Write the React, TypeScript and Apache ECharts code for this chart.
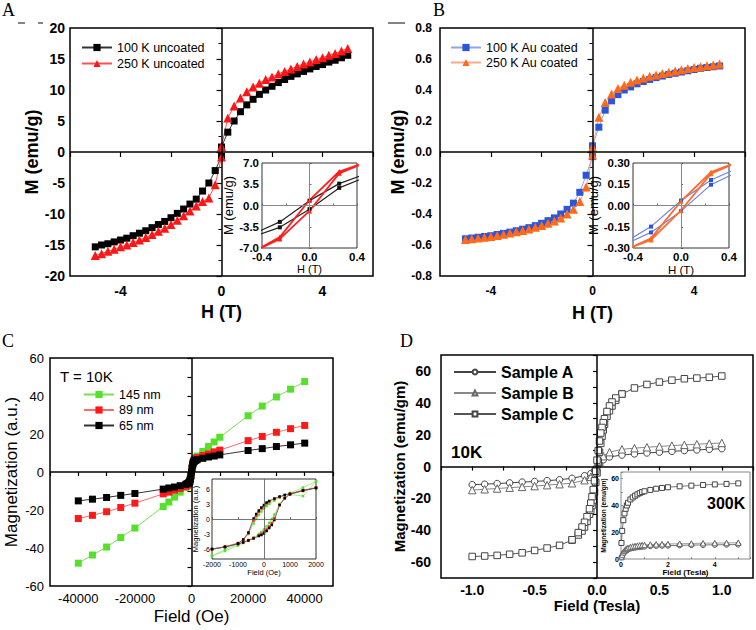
import React, { useEffect, useRef } from 'react';
import * as echarts from 'echarts';

const FONT = 'Arial, "Liberation Sans", Helvetica, sans-serif';
const SERIF = '"Times New Roman", "Liberation Serif", serif';

// ---------- Panel A (uncoated) ----------
const aField = [-5, -4.75, -4.5, -4.25, -4, -3.75, -3.5, -3.25, -3, -2.75, -2.5, -2.25, -2, -1.75, -1.5, -1.25, -1, -0.75, -0.5, -0.25, 0, 0, 0.25, 0.5, 0.75, 1, 1.25, 1.5, 1.75, 2, 2.25, 2.5, 2.75, 3, 3.25, 3.5, 3.75, 4, 4.25, 4.5, 4.75, 5];
const a100 = [-15.3, -15.0, -14.8, -14.5, -14.2, -13.9, -13.5, -13.1, -12.7, -12.2, -11.7, -11.2, -10.6, -9.9, -9.2, -8.4, -7.6, -6.3, -5.0, -3.0, -0.7, 0.8, 3.2, 5.0, 6.5, 7.6, 8.5, 9.3, 10.0, 10.6, 11.2, 11.7, 12.2, 12.6, 13.0, 13.4, 13.8, 14.1, 14.5, 14.8, 15.2, 15.6];
const a250 = [-16.7, -16.4, -16.0, -15.7, -15.3, -15.0, -14.6, -14.2, -13.8, -13.3, -12.8, -12.3, -11.7, -11.0, -10.3, -9.5, -8.7, -8.0, -7.4, -5.3, -0.8, 0.9, 5.5, 7.4, 8.7, 9.7, 10.5, 11.1, 11.7, 12.1, 12.6, 13.0, 13.4, 13.8, 14.2, 14.5, 14.9, 15.2, 15.6, 15.9, 16.3, 16.7];
// inset loops (A and B share the field sequence)
const insetField = [0.5, 0.25, 0, -0.25, -0.5, -0.5, -0.25, 0, 0.25, 0.5];
const aIn100 = [5.4, 3.6, 0.8, -2.7, -4.9, -5.3, -3.6, -0.6, 2.9, 4.9];
const aIn250 = [7.3, 5.6, 0.9, -5.2, -7.9, -7.8, -5.5, -0.9, 5.3, 7.3];

// ---------- Panel B (Au coated) ----------
const b100 = [-0.56, -0.555, -0.55, -0.545, -0.54, -0.532, -0.525, -0.517, -0.508, -0.498, -0.488, -0.475, -0.46, -0.443, -0.425, -0.40, -0.37, -0.33, -0.26, -0.15, -0.03, 0.04, 0.16, 0.27, 0.33, 0.37, 0.40, 0.42, 0.44, 0.455, 0.468, 0.48, 0.49, 0.50, 0.508, 0.516, 0.524, 0.532, 0.54, 0.545, 0.55, 0.555];
const b250 = [-0.565, -0.56, -0.555, -0.55, -0.545, -0.538, -0.53, -0.522, -0.515, -0.506, -0.497, -0.486, -0.474, -0.46, -0.445, -0.425, -0.40, -0.37, -0.32, -0.225, -0.02, 0.03, 0.225, 0.32, 0.375, 0.41, 0.43, 0.45, 0.465, 0.478, 0.488, 0.497, 0.506, 0.515, 0.522, 0.53, 0.538, 0.545, 0.55, 0.556, 0.562, 0.568];
const bIn100 = [0.273, 0.18, 0.035, -0.149, -0.276, -0.287, -0.19, -0.04, 0.147, 0.249];
const bIn250 = [0.316, 0.236, 0.03, -0.232, -0.329, -0.321, -0.243, -0.035, 0.225, 0.317];

// ---------- Panel C (T = 10K) ----------
const cField = [-40000, -35000, -30000, -25000, -20000, -10000, -8000, -6000, -4000, -2000, -1500, -1000, -800, -600, -400, -200, 0, 200, 400, 600, 800, 1000, 1500, 2000, 4000, 6000, 8000, 10000, 20000, 25000, 30000, 35000, 40000];
const c145 = [-48, -43.7, -39.5, -34.5, -29.5, -18.2, -15.8, -13.2, -10.6, -8.2, -7.3, -6.4, -5.8, -5.0, -3.8, -2.0, 0.2, 2.2, 3.9, 5.0, 5.8, 6.5, 7.4, 8.4, 10.8, 13.4, 15.8, 18.3, 29.6, 34.7, 39.5, 43.6, 47.6];
const c89 = [-24.5, -22.8, -20.9, -18.7, -16.4, -11.5, -10.6, -9.6, -8.7, -7.6, -7.0, -6.3, -5.8, -5.0, -3.8, -2.0, 0.1, 2.1, 3.8, 5.0, 5.8, 6.4, 7.0, 7.6, 8.7, 9.6, 10.6, 11.5, 16.5, 18.7, 20.9, 22.8, 24.5];
const c65 = [-15.2, -14.3, -13.4, -12.3, -11.3, -9.0, -8.4, -7.9, -7.2, -6.5, -6.1, -5.7, -5.3, -4.7, -3.7, -2.0, 0.0, 2.0, 3.7, 4.7, 5.3, 5.7, 6.1, 6.5, 7.2, 7.9, 8.4, 9.0, 11.3, 12.3, 13.4, 14.3, 15.2];
const cInField = [2000, 1500, 1000, 800, 600, 400, 200, 100, 0, -100, -200, -300, -400, -600, -800, -1000, -1500, -2000, -2000, -1500, -1000, -800, -600, -400, -200, -100, 0, 100, 200, 300, 400, 600, 800, 1000, 1500, 2000];
const cIn65 = [6.2, 5.7, 5.0, 4.8, 4.5, 4.1, 3.6, 3.3, 2.8, 2.3, 1.7, 1.0, 0.1, -2.7, -4.1, -4.9, -5.6, -6.0, -6.0, -5.6, -5.0, -4.7, -4.3, -3.9, -3.4, -3.2, -2.9, -2.4, -1.8, -1.2, -0.2, 2.8, 4.2, 5.0, 5.7, 6.2];
const cIn89 = [6.3, 5.8, 5.1, 4.8, 4.4, 4.0, 3.5, 3.1, 2.6, 2.1, 1.4, 0.6, -0.3, -2.9, -4.2, -4.8, -5.5, -6.1, -6.1, -5.5, -4.9, -4.6, -4.2, -3.8, -3.3, -3.0, -2.6, -2.1, -1.5, -0.8, 0.2, 2.8, 4.1, 4.9, 5.6, 6.3];
const cIn145 = [7.5, 6.3, 5.2, 4.8, 4.3, 3.7, 3.0, 2.6, 2.1, 1.5, 0.8, 0.0, -0.9, -3.0, -4.3, -5.0, -6.1, -7.4, -7.4, -6.4, -5.3, -4.8, -4.3, -3.7, -3.0, -2.6, -2.1, -1.5, -0.8, 0.0, 0.9, 3.0, 4.2, 4.9, 4.6, 7.5];

// ---------- Panel D (10K / 300K) ----------
const dField = [-1, -0.9, -0.8, -0.7, -0.6, -0.5, -0.4, -0.3, -0.2, -0.1, -0.05, -0.02, 0, 0.02, 0.05, 0.1, 0.2, 0.3, 0.4, 0.5, 0.6, 0.7, 0.8, 0.9, 1];
const dA = [-11.4, -11.1, -10.7, -10.3, -9.8, -9.4, -8.9, -8.3, -7.4, -5.8, -4.5, -2.5, -0.5, 2.0, 4.2, 6.0, 7.2, 7.9, 8.5, 9.0, 9.5, 10.0, 10.4, 10.8, 11.2];
const dB = [-14.8, -14.3, -13.8, -13.3, -12.8, -12.3, -11.7, -11.1, -10.5, -8.6, -6.5, -3.5, -0.5, 3.0, 6.5, 9.0, 10.8, 11.5, 12.1, 12.6, 13.1, 13.6, 14.0, 14.4, 14.8];
const dCField = [-1, -0.9, -0.8, -0.7, -0.6, -0.5, -0.4, -0.3, -0.2, -0.15, -0.12, -0.1, -0.08, -0.06, -0.05, -0.04, -0.03, -0.02, -0.01, 0, 0.01, 0.02, 0.03, 0.04, 0.05, 0.06, 0.08, 0.1, 0.12, 0.15, 0.2, 0.3, 0.4, 0.5, 0.6, 0.7, 0.8, 0.9, 1];
const dCM = [-56.5, -56.2, -55.8, -55.1, -54.2, -52.7, -51.2, -49.5, -46.2, -43, -40.5, -38, -34.5, -30, -27.5, -24.5, -21, -16, -10, -4, 3, 9, 14.5, 19, 23, 26.5, 31.5, 35, 38, 41.5, 45.5, 49.3, 51.5, 53.0, 54.2, 55.1, 55.5, 56.0, 56.8];
const dCLoopField = [0.2, 0.15, 0.12, 0.1, 0.08, 0.06, 0.05, 0.04, 0.03, 0.02, 0.01, 0, -0.01, -0.02, -0.03, -0.04, -0.05, -0.06, -0.08, -0.1, -0.12, -0.15, -0.2];
const dCLoopM = [45.5, 43, 40.5, 38, 34.5, 30, 27.5, 24.5, 21, 16, 10, 4, -3, -9, -14.5, -19, -23, -26.5, -31.5, -35, -38, -41.5, -46];
const dInField = [0.02, 0.05, 0.1, 0.15, 0.2, 0.25, 0.3, 0.4, 0.5, 0.6, 0.7, 0.8, 0.9, 1, 1.25, 1.5, 1.75, 2, 2.5, 3, 3.5, 4, 4.5, 5];
const dInC = [12, 21, 29, 34, 37.5, 40, 42, 44.5, 46, 47.3, 48.3, 49.2, 50, 50.6, 51.6, 52.5, 53.1, 53.6, 54.3, 54.8, 55.3, 55.7, 56.1, 56.5];
const dInB = [1.5, 3, 5, 6.3, 7.2, 7.8, 8.3, 9, 9.4, 9.7, 10, 10.2, 10.4, 10.5, 10.8, 11, 11.1, 11.2, 11.4, 11.6, 11.8, 11.9, 12.0, 12.2];
const dInA = [1.2, 2.4, 4, 5.2, 6, 6.6, 7.1, 7.8, 8.2, 8.5, 8.8, 9, 9.2, 9.3, 9.6, 9.8, 9.9, 10, 10.2, 10.4, 10.5, 10.6, 10.7, 10.8];

const near = (a: number, b: number) => Math.abs(a - b) < 1e-6;
const isMult = (v: number, m: number) => near(v / m, Math.round(v / m));

function zero(color: string, width: number) {
  return {
    silent: true,
    symbol: ['none', 'none'],
    label: { show: false },
    lineStyle: { color, width, type: 'solid' },
    emphasis: { disabled: true },
    data: [{ xAxis: 0 }, { yAxis: 0 }],
  };
}

function ser(name: string, gi: number, xs: number[], ys: number[], sym: string, size: number, itemStyle: any, lineColor: string, lw: number, extra: any = {}) {
  return {
    name,
    type: 'line',
    xAxisIndex: gi,
    yAxisIndex: gi,
    data: xs.map((x, i) => [x, ys[i]]),
    symbol: sym,
    symbolSize: size,
    itemStyle,
    lineStyle: { color: lineColor, width: lw },
    emphasis: { disabled: true },
    clip: true,
    ...extra,
  };
}

function axis(gi: number, min: number, max: number, interval: number, fmt: (v: number) => string, label: any, tick: any, name?: string, nameGap?: number, nameStyle?: any, minor?: any) {
  return {
    type: 'value',
    gridIndex: gi,
    min,
    max,
    interval,
    axisLine: { show: false },
    splitLine: { show: false },
    axisTick: tick,
    minorTick: minor || { show: false },
    axisLabel: { formatter: fmt, color: '#000', fontFamily: FONT, ...label },
    name: name || '',
    nameLocation: 'middle',
    nameGap: nameGap || 0,
    nameTextStyle: { color: '#000', fontFamily: FONT, ...(nameStyle || {}) },
  };
}

const outTick = (len: number) => ({ show: true, inside: false, length: len, lineStyle: { color: '#000', width: 1.2 } });
const inTick = (len: number, color = '#444') => ({ show: true, inside: true, length: len, lineStyle: { color, width: 0.8 } });
const minorOut = { show: true, splitNumber: 2, length: 3, lineStyle: { color: '#000', width: 1 } };

function buildOption(): any {
  const xAxis = [
    axis(0, -6, 6, 2, (v) => (near(v, -4) || near(v, 0) || near(v, 4) ? String(Math.round(v)) : ''), { fontSize: 14, fontWeight: 'bold', margin: 8 }, outTick(5), 'H (T)', 27, { fontSize: 18, fontWeight: 'bold' }),
    axis(1, -0.4, 0.4, 0.2, (v) => (near(Math.abs(v), 0.4) || near(v, 0) ? v.toFixed(1) : ''), { fontSize: 11.5, fontWeight: 'bold', margin: 3 }, inTick(2), 'H (T)', 14, { fontSize: 11 }),
    axis(2, -6, 6, 2, (v) => (near(v, -4) || near(v, 0) || near(v, 4) ? String(Math.round(v)) : ''), { fontSize: 12, fontWeight: 'bold', margin: 9 }, outTick(5), 'H (T)', 28, { fontSize: 18, fontWeight: 'bold' }),
    axis(3, -0.4, 0.4, 0.2, (v) => (near(Math.abs(v), 0.4) || near(v, 0) ? v.toFixed(1) : ''), { fontSize: 11.5, fontWeight: 'bold', margin: 3 }, inTick(2), 'H (T)', 14, { fontSize: 11.5 }),
    axis(4, -50000, 50000, 10000, (v) => (isMult(v, 20000) ? String(Math.round(v)) : ''), { fontSize: 13, margin: 6 }, outTick(4), 'Field (Oe)', 22, { fontSize: 17 }),
    axis(5, -2000, 2000, 1000, (v) => String(Math.round(v)), { fontSize: 7, margin: 2 }, inTick(2), 'Field (Oe)', 9, { fontSize: 7.5 }),
    axis(6, -1.25, 1.25, 0.25, (v) => (isMult(v, 0.5) ? v.toFixed(1) : ''), { fontSize: 14, fontWeight: 'bold', margin: 5 }, outTick(4), 'Field (Tesla)', 17, { fontSize: 15, fontWeight: 'bold' }),
    axis(7, 0, 5.5, 1, (v) => (isMult(v, 2) ? String(Math.round(v)) : ''), { fontSize: 7, fontWeight: 'bold', margin: 2 }, inTick(2, '#777'), 'Field (Tesla)', 8, { fontSize: 8, fontWeight: 'bold' }),
  ];
  const yAxis = [
    axis(0, -20, 20, 5, (v) => String(Math.round(v)), { fontSize: 14, fontWeight: 'bold', margin: 5 }, outTick(5), 'M (emu/g)', 25, { fontSize: 18, fontWeight: 'bold' }, minorOut),
    axis(1, -7, 7, 3.5, (v) => v.toFixed(1), { fontSize: 11.5, fontWeight: 'bold', margin: 3 }, inTick(2), 'M (emu/g)', 26, { fontSize: 13 }),
    axis(2, -0.8, 0.8, 0.2, (v) => v.toFixed(1), { fontSize: 12, fontWeight: 'bold', margin: 8 }, outTick(5), 'M (emu/g)', 26, { fontSize: 18, fontWeight: 'bold' }, minorOut),
    axis(3, -0.3, 0.3, 0.15, (v) => v.toFixed(2), { fontSize: 11.5, fontWeight: 'bold', margin: 3 }, inTick(2), 'M (emu/g)', 32, { fontSize: 13 }),
    axis(4, -60, 60, 10, (v) => (isMult(v, 20) ? String(Math.round(v)) : ''), { fontSize: 13, margin: 6 }, outTick(4), 'Magnetization (a.u.)', 30, { fontSize: 17 }),
    axis(5, -8, 8, 1, (v) => (isMult(v, 3) ? String(Math.round(v)) : ''), { fontSize: 7, margin: 2 }, { show: false }, 'Magnetization (a.u.)', 9, { fontSize: 7.5 }),
    axis(6, -70, 70, 10, (v) => (isMult(v, 20) ? String(Math.round(v)) : ''), { fontSize: 14, fontWeight: 'bold', margin: 10 }, outTick(4), 'Magnetization (emu/gm)', 23, { fontSize: 15, fontWeight: 'bold' }),
    axis(7, 0, 65, 10, (v) => (isMult(v, 20) ? String(Math.round(v)) : ''), { fontSize: 7, fontWeight: 'bold', margin: 2 }, inTick(2, '#777'), 'Magnetization (emu/gm)', 11, { fontSize: 6.5, fontWeight: 'bold' }),
  ];

  const grid = [
    { left: 70, top: 28, width: 303, height: 248, show: true, borderColor: '#000', borderWidth: 1.5 },
    { left: 262, top: 163, width: 95, height: 85, show: true, borderColor: '#333', borderWidth: 1, backgroundColor: '#fff' },
    { left: 440, top: 28, width: 305, height: 248, show: true, borderColor: '#000', borderWidth: 1.5 },
    { left: 633, top: 163, width: 96, height: 85, show: true, borderColor: '#333', borderWidth: 1, backgroundColor: '#fff' },
    { left: 50, top: 358, width: 283, height: 228, show: true, borderColor: '#000', borderWidth: 1.5 },
    { left: 212, top: 479, width: 104, height: 80, show: true, borderColor: '#333', borderWidth: 1, backgroundColor: '#fff' },
    { left: 441, top: 355, width: 312, height: 223, show: true, borderColor: '#000', borderWidth: 1.5 },
    { left: 621, top: 472, width: 129, height: 87, show: true, borderColor: '#888', borderWidth: 1, backgroundColor: '#fff' },
  ];

  const openSym = (stroke: string) => ({ color: '#fff', borderColor: stroke, borderWidth: 1 });

  const series = [
    // A
    ser('100 K uncoated', 0, aField, a100, 'rect', 7, { color: '#000' }, '#333', 1, { markLine: zero('#000', 1.5) }),
    ser('250 K uncoated', 0, aField, a250, 'triangle', 9, { color: '#ff1515' }, '#ff5050', 1),
    ser('A inset 100 K', 1, insetField, aIn100, 'rect', 4, { color: '#111' }, '#222', 1.2, { markLine: zero('#888', 1) }),
    ser('A inset 250 K', 1, insetField, aIn250, 'triangle', 5, { color: '#ff1a1a' }, '#ff2020', 1.8),
    // B
    ser('100 K Au coated', 2, aField, b100, 'rect', 7, { color: '#2a55dd' }, '#8ea5e6', 1, { markLine: zero('#000', 1.5) }),
    ser('250 K Au coated', 2, aField, b250, 'triangle', 9, { color: '#ff6a1a' }, '#f7a88c', 1),
    ser('B inset 100 K', 3, insetField, bIn100, 'rect', 4, { color: '#2a55dd' }, '#6f86d8', 1.2, { markLine: zero('#888', 1) }),
    ser('B inset 250 K', 3, insetField, bIn250, 'triangle', 5, { color: '#ff6a1a' }, '#ff6a30', 1.8),
    // C
    ser('145 nm', 4, cField, c145, 'rect', 7, { color: '#55e02a' }, '#7ae04f', 1, { markLine: zero('#000', 1.5) }),
    ser('89 nm', 4, cField, c89, 'rect', 7, { color: '#ff1a1a' }, '#ff6a6a', 1),
    ser('65 nm', 4, cField, c65, 'rect', 7, { color: '#000' }, '#333', 1),
    ser('C inset 145 nm', 5, cInField, cIn145, 'rect', 2.5, { color: '#55e02a' }, '#8ee86a', 0.8, { markLine: zero('#555', 0.8) }),
    ser('C inset 89 nm', 5, cInField, cIn89, 'rect', 2.5, { color: '#ff2020' }, '#ff8a8a', 0.8),
    ser('C inset 65 nm', 5, cInField, cIn65, 'rect', 2.5, { color: '#000' }, '#555', 0.8),
    // D
    ser('Sample A', 6, dField, dA, 'circle', 6.5, openSym('#444'), '#444', 1, { markLine: zero('#000', 1.5) }),
    ser('Sample B', 6, dField, dB, 'triangle', 7.5, openSym('#666'), '#888', 1),
    ser('Sample C', 6, dCField, dCM, 'rect', 6.5, openSym('#444'), '#555', 1),
    ser('Sample C loop', 6, dCLoopField, dCLoopM, 'rect', 6.5, openSym('#444'), '#555', 1),
    ser('D inset A', 7, dInField, dInA, 'circle', 5, openSym('#444'), '#555', 0.8),
    ser('D inset B', 7, dInField, dInB, 'triangle', 5.5, openSym('#666'), '#888', 0.8),
    ser('D inset C', 7, dInField, dInC, 'rect', 5, openSym('#444'), '#555', 0.8),
  ];

  const legendBase = { orient: 'vertical', selectedMode: false, padding: 0 };
  const smallText = { fontSize: 12.5, lineHeight: 13, fontFamily: FONT, color: '#000' };
  const legend = [
    { ...legendBase, data: ['100 K uncoated', '250 K uncoated'], left: 81, top: 41, itemGap: 3, itemWidth: 30, itemHeight: 9, textStyle: smallText },
    { ...legendBase, data: ['100 K Au coated', '250 K Au coated'], left: 450, top: 41, itemGap: 2, itemWidth: 30, itemHeight: 9, textStyle: smallText },
    { ...legendBase, data: ['145 nm', '89 nm', '65 nm'], left: 83, top: 388, itemGap: 2.5, itemWidth: 30, itemHeight: 9, textStyle: smallText },
    { ...legendBase, data: ['Sample A', 'Sample B', 'Sample C'], left: 453, top: 364, itemGap: 5, itemWidth: 42, itemHeight: 6, textStyle: { fontSize: 16, lineHeight: 16, fontWeight: 'bold', fontFamily: FONT, color: '#000' } },
  ];

  const txt = (text: string, x: number, y: number, font: string) => ({
    type: 'text', x, y, silent: true,
    style: { text, font, fill: '#000', align: 'left', verticalAlign: 'middle', textAlign: 'left', textVerticalAlign: 'middle' },
  });
  const dash = (x1: number, x2: number, y: number) => ({ type: 'line', silent: true, shape: { x1, y1: y, x2, y2: y }, style: { stroke: '#333', lineWidth: 1.2 } });

  const graphic = {
    elements: [
      txt('A', 2, 10, `18px ${SERIF}`),
      txt('B', 433, 10, `18px ${SERIF}`),
      txt('C', 2, 341, `18px ${SERIF}`),
      txt('D', 400, 341, `18px ${SERIF}`),
      dash(18, 25, 23),
      dash(38, 43, 23),
      dash(388, 405, 23),
      txt('T = 10K', 60, 376, `15px ${FONT}`),
      txt('10K', 451, 452, `bold 17px ${FONT}`),
      txt('300K', 707, 503, `bold 16px ${FONT}`),
    ],
  };

  return {
    animation: false,
    backgroundColor: '#fff',
    grid,
    xAxis,
    yAxis,
    legend,
    series,
    graphic,
  };
}

export default function App() {
  const ref = useRef<HTMLDivElement>(null);
  useEffect(() => {
    if (!ref.current) return;
    const chart = echarts.init(ref.current, undefined, { renderer: 'svg' });
    chart.setOption(buildOption());
    return () => chart.dispose();
  }, []);
  return <div ref={ref} style={{ position: 'absolute', left: 0, top: 0, width: 756, height: 630 }} />;
}
